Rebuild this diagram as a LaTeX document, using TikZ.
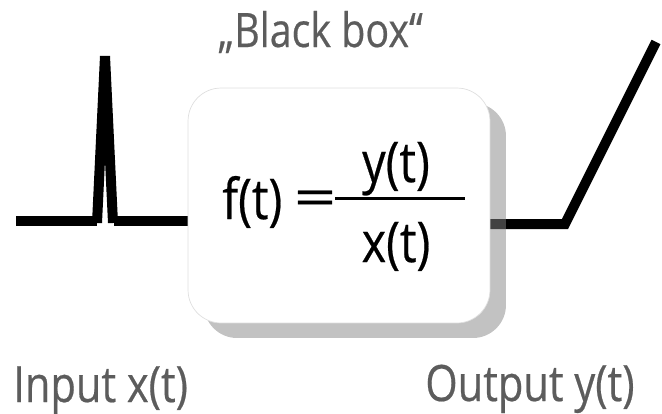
\documentclass[tikz,border=0pt]{standalone}
\usepackage{fontspec}
\usepackage{tikz}
\usetikzlibrary{shadows,backgrounds}
\newfontfamily\boxfont[FakeStretch=0.83, FakeBold=0.4]{Open Sans}
\definecolor{labelgray}{HTML}{5C5C5C}
\definecolor{shadowgray}{HTML}{858585}

\begin{document}
\begin{tikzpicture}[x=0.02cm, y=-0.02cm,
  signal/.style={line width=0.2cm, black},
  caption/.style={inner sep=0pt, text=labelgray, font=\boxfont\fontsize{28.5}{30}\selectfont},
  formula/.style={inner sep=0pt, font=\boxfont\fontsize{32}{34}\selectfont}]
  \useasboundingbox (0,0) rectangle (662,413);

  % The black box with its shadow
  \node[draw=gray!25, thin, fill=white, rounded corners=0.66cm,
        minimum width=6.04cm, minimum height=4.7cm,
        drop shadow={shadow xshift=0.32cm, shadow yshift=-0.3cm, fill=shadowgray, opacity=0.5}]
        (box) at (339,205.5) {};

  % Transfer function
  \node[formula, anchor=base west] (ft) at (222,219) {f(t)};
  \node[formula, xscale=1.6, yscale=0.9] (eq) at (315,203) {=};
  \node[formula, anchor=base] (num) at (396,182) {y(t)};
  \node[formula, anchor=base] (den) at (396,262) {x(t)};
  \draw[line width=0.06cm] (335,198) -- (465,198);

  % Signals, behind the box
  \begin{pgfonlayer}{background}
    % Input pulse
    \draw[signal] (16,221) -- (97,221);
    \draw[signal] (97,223) -- (105,56) -- (113,223);
    \draw[signal] (114,221) -- (190,221);
    % Output ramp
    \draw[signal] (480,224) -- (565,224) -- (656,42);
  \end{pgfonlayer}

  % Labels
  \node[caption, anchor=base west, font=\boxfont\fontsize{27}{29}\selectfont] (title) at (218,47) {„Black box“};
  \node[caption, anchor=base west] (input) at (13,402) {Input x(t)};
  \node[caption, anchor=base west] (output) at (425,401) {Output y(t)};
\end{tikzpicture}
\end{document}
